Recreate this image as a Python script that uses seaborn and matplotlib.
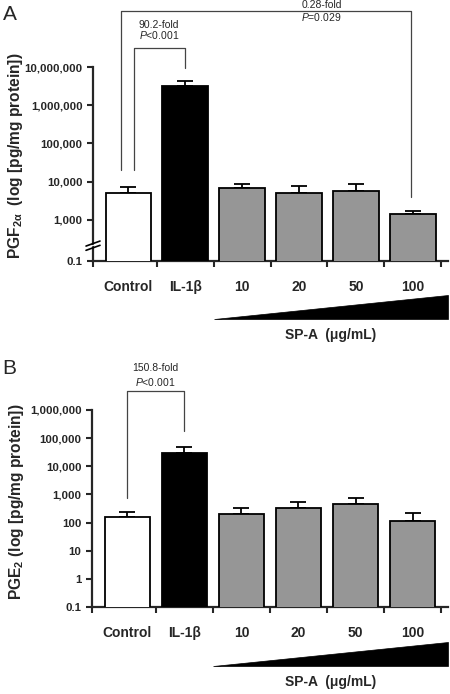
import numpy as np
import matplotlib
matplotlib.use("Agg")
import matplotlib.pyplot as plt
import seaborn as sns
from matplotlib.patches import Polygon

# data (log axes)
groups = ["Control", "IL-1β", "10", "20", "50", "100"]
bar_colors = ["white", "black", "#969696", "#969696", "#969696", "#969696"]

pgf_mean = [5100, 3200000, 6600, 5100, 5800, 1440]
pgf_upper = [7400, 4400000, 8900, 7800, 8900, 1730]
pgf_ticks = [0.1, 1000, 10000, 100000, 1000000, 10000000]
pgf_ticklabels = ["0.1", "1,000", "10,000", "100,000", "1,000,000", "10,000,000"]

pge_mean = [163, 30000, 193, 316, 440, 109]
pge_upper = [245, 48000, 316, 520, 720, 210]
pge_ticks = [0.1, 1, 10, 100, 1000, 10000, 100000, 1000000]
pge_ticklabels = ["0.1", "1", "10", "100", "1,000", "10,000", "100,000", "1,000,000"]

sns.set_style("ticks")
plt.rcParams["font.family"] = ["Liberation Sans", "DejaVu Sans"]
plt.rcParams["mathtext.fontset"] = "custom"
plt.rcParams["mathtext.rm"] = "Liberation Sans"
plt.rcParams["mathtext.it"] = "Liberation Sans:italic"
plt.rcParams["mathtext.bf"] = "Liberation Sans:bold"

# broken log axis for panel A: full decades above 1,000, squeezed below
K = 0.27


def fwd(v):
    lv = np.log10(np.clip(v, 1e-6, None))
    return np.where(lv >= 3, lv, 3 + (lv - 3) * K)


def inv(t):
    t = np.asarray(t, dtype=float)
    return np.where(t >= 3, 10.0 ** t, 10.0 ** (3 + (t - 3) / K))


fig = plt.figure(figsize=(4.5, 6.94), dpi=100)
axA = fig.add_axes([0.2067, 0.6239, 0.789, 0.2795])
axB = fig.add_axes([0.2044, 0.1254, 0.791, 0.2839])
axA.set_yscale("function", functions=(fwd, inv))
axB.set_yscale("log")

XMIN, XMAX = -0.62, 5.62


def draw_panel(ax, mean, upper, ticks, ticklabels, ylo, yhi):
    sns.barplot(x=groups, y=mean, hue=groups, palette=bar_colors, order=groups,
                hue_order=groups, legend=False, errorbar=None, width=0.8,
                edgecolor="black", linewidth=1.3, ax=ax, zorder=3)
    pos = np.arange(len(groups))
    err = np.array(upper) - np.array(mean)
    ax.errorbar(pos, mean, yerr=[np.zeros(len(pos)), err], fmt="none",
                ecolor="black", elinewidth=1.3, capsize=6, capthick=1.3, zorder=2)
    ax.set_ylim(ylo, yhi)
    ax.set_xlim(XMIN, XMAX)
    ax.set_yticks(ticks)
    ax.set_yticklabels(ticklabels, fontsize=8.2, fontweight="bold")
    ax.yaxis.set_minor_locator(matplotlib.ticker.NullLocator())
    ax.set_xticks(pos)
    ax.set_xticklabels(groups, fontsize=10, fontweight="bold")
    ax.set_xticks([XMIN] + list(pos[:-1] + 0.5) + [pos[-1] + 0.5], minor=True)
    ax.tick_params(axis="x", which="major", length=0, pad=14)
    ax.tick_params(axis="x", which="minor", length=4, width=1.5, direction="out")
    ax.tick_params(axis="y", which="major", length=4.5, width=1.5, pad=3, direction="out")
    for s in ["top", "right"]:
        ax.spines[s].set_visible(False)
    for s in ["left", "bottom"]:
        ax.spines[s].set_linewidth(1.6)
    ax.set_xlabel("")
    ax.set_ylabel("")

    # SP-A concentration wedge
    tr = ax.get_xaxis_transform()
    wedge = Polygon([[1.5, -0.30], [XMAX, -0.30], [XMAX, -0.177]], closed=True,
                    facecolor="black", edgecolor="black", lw=0.5,
                    transform=tr, clip_on=False)
    ax.add_patch(wedge)
    ax.text((1.5 + XMAX) / 2, -0.383, "SP-A  (μg/mL)", transform=tr, ha="center",
            va="center", fontsize=10, fontweight="bold")


def frac(ax, x, v):
    return ax.transAxes.inverted().transform(ax.transData.transform((x, v)))[1]


def bracket(ax, x1, x2, y1, y2, top, l1, l2, tx, ty1, ty2):
    tr = ax.get_xaxis_transform()
    ax.plot([x1, x1, x2, x2], [y1, top, top, y2], color="#444444", lw=0.9,
            transform=tr, clip_on=False)
    ax.text(tx, ty1, l1, transform=tr, ha="center", va="center", fontsize=7.5)
    ax.text(tx, ty2, l2, transform=tr, ha="center", va="center", fontsize=7.5)


draw_panel(axA, pgf_mean, pgf_upper, pgf_ticks, pgf_ticklabels, 0.1, 1e7)
draw_panel(axB, pge_mean, pge_upper, pge_ticks, pge_ticklabels, 0.1, 1e6)

# significance brackets, ends sit just above the error caps
hA = 194.0
bracket(axA, 0.1, 1.0, frac(axA, 0, pgf_upper[0]) + 17 / hA,
        frac(axA, 1, pgf_upper[1]) + 13 / hA, 1.098,
        "90.2-fold", "$P$<0.001", 0.54, 1.216, 1.165)
bracket(axA, -0.13, 4.97, frac(axA, 0, pgf_upper[0]) + 17 / hA,
        frac(axA, 5, pgf_upper[5]) + 14 / hA, 1.289,
        "0.28-fold", "$P$=0.029", 3.40, 1.322, 1.258)
hB = 197.0
bracket(axB, 0.0, 1.0, frac(axB, 0, pge_upper[0]) + 14 / hB,
        frac(axB, 1, pge_upper[1]) + 16 / hB, 1.096,
        "150.8-fold", "$P$<0.001", 0.49, 1.213, 1.142)

# axis break marks on panel A
for yc in (0.090, 0.068):
    axA.plot([-0.0197, 0.0197], [yc - 0.0129, yc + 0.0129], color="black", lw=1.2,
             transform=axA.transAxes, clip_on=False, zorder=5)
axA.add_patch(Polygon([[-0.006, 0.073], [0.006, 0.081], [0.006, 0.087], [-0.006, 0.079]],
                      closed=True, facecolor="white", edgecolor="none",
                      transform=axA.transAxes, clip_on=False, zorder=4))

# axis titles and panel letters
fig.text(16 / 450, 1 - 156 / 694, r"PGF$_{\mathbf{2α}}$  (log [pg/mg protein])",
         rotation=90, ha="center", va="center", fontsize=11.2, fontweight="bold")
fig.text(17 / 450, 1 - 502 / 694, r"PGE$_{\mathbf{2}}$ (log [pg/mg protein])",
         rotation=90, ha="center", va="center", fontsize=11.2, fontweight="bold")
fig.text(10 / 450, 1 - 15 / 694, "A", ha="center", va="center", fontsize=15)
fig.text(9 / 450, 1 - 369 / 694, "B", ha="center", va="center", fontsize=15)

fig.savefig("out.png", dpi=100)
